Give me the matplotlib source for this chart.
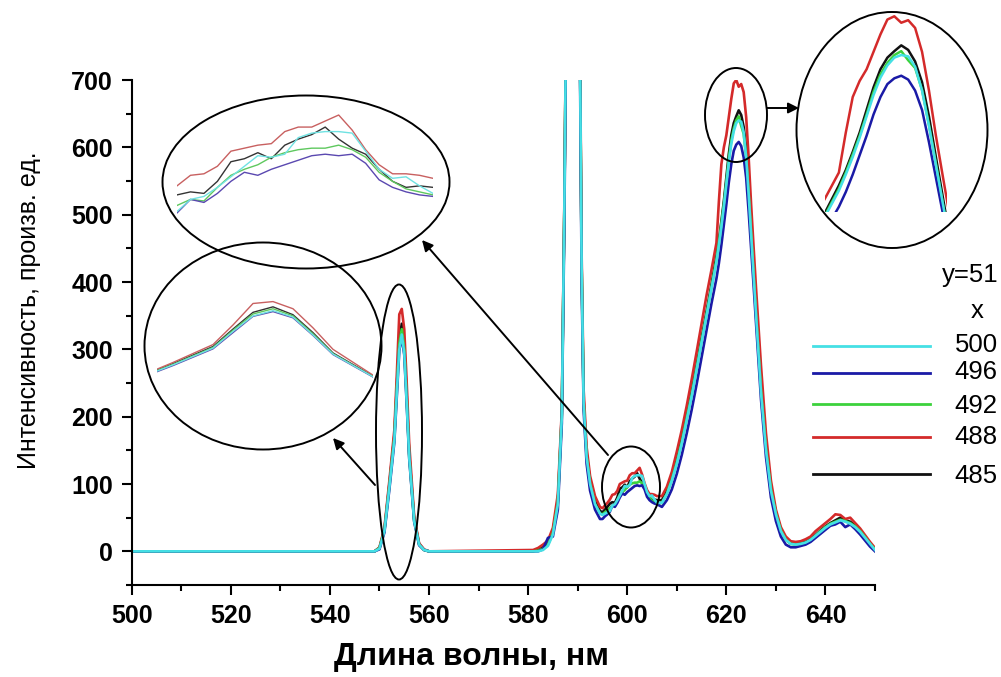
import matplotlib
matplotlib.use('Agg')
import matplotlib.pyplot as plt
from matplotlib.patches import Ellipse, FancyArrowPatch
from matplotlib.lines import Line2D
from matplotlib.ticker import MultipleLocator
import numpy as np

plt.rcParams['font.family'] = ['Liberation Sans', 'DejaVu Sans']

W, H = 1001, 677

# wavelength grid, nm
wavelength = np.array([
    500, 549, 550, 551, 552, 553, 553.5, 554, 554.5, 555, 555.5, 556, 557, 558, 559, 560,
    581, 582, 583, 584, 585, 586, 586.8, 587.3, 587.8, 589, 590.3, 590.8, 591.2, 591.8, 592.5, 593.5, 594.5,
    595, 595.5, 596, 596.5, 597, 597.5, 598, 598.5, 599, 599.5, 600, 600.5, 601, 601.5, 602, 602.5,
    603, 603.5, 604, 604.5, 605, 605.5, 606,
    607, 608, 609, 610, 611, 612, 613, 614, 615, 616, 617, 618,
    618.5, 619, 619.5, 620, 620.5, 621, 621.5, 622, 622.5, 623, 623.5, 624, 624.5, 625, 625.5, 626,
    627, 628, 629, 630, 631, 632, 633, 634, 635, 636, 637, 638, 639, 640, 641, 642, 643, 644, 645,
    646, 647, 648, 649, 650])

int_500 = [0, 0, 4, 30, 95, 165, 235, 300, 322, 295, 220, 140, 45, 10, 2, 0,
           0, 0, 2, 8, 25, 70, 200, 500, 900, 2000, 900, 420, 220, 140, 100, 70, 56,
           54, 56, 58, 60, 68, 70, 76, 83, 90, 97, 96, 98, 109, 112, 113, 113, 112, 100, 88, 82, 83, 77, 72,
           72, 85, 105, 130, 160, 195, 230, 270, 310, 350, 390, 430,
           455, 482, 512, 545, 578, 605, 624, 636, 640, 638, 622, 585, 530, 470, 410, 350,
           235, 150, 90, 55, 30, 17, 11, 10, 11, 13, 17, 23, 29, 35, 40, 43, 46, 44, 41, 36, 29, 20, 11, 2]
int_496 = [0, 0, 3, 28, 92, 162, 230, 298, 318, 292, 218, 138, 44, 9, 2, 0,
           0, 0, 3, 20, 22, 62, 190, 480, 880, 2000, 880, 400, 210, 130, 90, 62, 48,
           48, 52, 55, 59, 68, 66, 72, 80, 86, 84, 88, 91, 94, 97, 98, 97, 98, 92, 81, 76, 73, 71, 70,
           66, 76, 92, 115, 143, 175, 210, 248, 288, 328, 368, 405,
           428, 455, 485, 515, 548, 575, 595, 604, 608, 602, 585, 555, 505, 450, 395, 338,
           225, 140, 80, 45, 22, 10, 6, 6, 8, 10, 14, 20, 26, 32, 38, 40, 44, 36, 40, 33, 25, 16, 7, 0]
int_492 = [0, 0, 5, 31, 97, 168, 240, 308, 330, 300, 225, 142, 46, 10, 2, 0,
           0, 1, 4, 10, 27, 72, 200, 500, 900, 2000, 900, 420, 220, 140, 100, 70, 56,
           55, 58, 61, 64, 68, 67, 76, 84, 88, 91, 96, 99, 101, 102, 102, 104, 101, 96, 86, 80, 75, 73, 71,
           72, 86, 106, 132, 162, 197, 232, 272, 312, 352, 392, 433,
           458, 486, 515, 548, 583, 610, 628, 640, 646, 632, 620, 586, 532, 472, 410, 350,
           238, 152, 92, 56, 31, 17, 11, 10, 11, 13, 17, 23, 30, 36, 41, 44, 47, 45, 42, 37, 30, 21, 11, 3]
int_488 = [0, 0, 6, 35, 105, 180, 262, 352, 360, 330, 250, 160, 52, 12, 3, 0,
           2, 5, 10, 16, 35, 85, 210, 510, 910, 2000, 920, 440, 240, 155, 112, 82, 66,
           64, 68, 72, 77, 84, 85, 90, 100, 102, 104, 105, 113, 116, 116, 120, 124, 114, 101, 91, 85, 85, 84, 82,
           82, 96, 118, 148, 180, 216, 255, 296, 338, 380, 418, 458,
           520, 575, 600, 618, 645, 672, 695, 700, 690, 694, 682, 645, 585, 515, 452, 390,
           275, 175, 105, 62, 36, 22, 15, 14, 15, 18, 22, 30, 36, 42, 48, 55, 54, 48, 50, 42, 34, 24, 14, 5]
int_485 = [0, 0, 5, 32, 100, 172, 245, 315, 338, 305, 230, 145, 48, 11, 2, 0,
           0, 3, 6, 12, 30, 75, 205, 505, 905, 2000, 905, 425, 225, 145, 105, 75, 60,
           58, 62, 66, 71, 73, 72, 80, 93, 95, 99, 95, 104, 108, 111, 116, 108, 102, 98, 88, 80, 76, 77, 76,
           76, 90, 110, 136, 166, 200, 236, 276, 316, 356, 396, 438,
           462, 490, 520, 555, 590, 618, 636, 646, 655, 648, 630, 598, 545, 482, 420, 358,
           245, 158, 95, 58, 32, 18, 12, 11, 12, 14, 18, 24, 31, 37, 42, 46, 50, 46, 44, 38, 30, 21, 12, 3]

legend_labels = ['500', '496', '492', '488', '485']
colors = ['#45E0E5', '#1A1AA6', '#3CD23C', '#D42A2A', '#111111']
light_colors = ['#6FE2E2', '#5A48B0', '#5EC85E', '#C86060', '#333333']
series = [int_500, int_496, int_492, int_488, int_485]
draw_order = [4, 3, 2, 1, 0]


def box(x0, y0, x1, y1):
    # pixel box -> figure fraction rect
    return [x0 / W, 1 - y1 / H, (x1 - x0) / W, (y1 - y0) / H]


def pt(x, y):
    return (x / W, 1 - y / H)


fig = plt.figure(figsize=(W / 100, H / 100), dpi=100)
ax = fig.add_axes(box(131.7, 80, 875, 585))

for i in draw_order:
    ax.plot(wavelength, series[i], color=colors[i], lw=1.9, solid_joinstyle='round')

ax.set_xlim(500, 650)
ax.set_ylim(-50, 700)
ax.xaxis.set_major_locator(MultipleLocator(20))
ax.xaxis.set_minor_locator(MultipleLocator(10))
ax.yaxis.set_major_locator(MultipleLocator(100))
ax.yaxis.set_minor_locator(MultipleLocator(50))
ax.spines['top'].set_visible(False)
ax.spines['right'].set_visible(False)
for s in ['left', 'bottom']:
    ax.spines[s].set_linewidth(1.5)
ax.tick_params(which='major', direction='out', length=7.5, width=1.5, labelsize=18, pad=6)
ax.tick_params(which='minor', direction='out', length=4, width=1.5)
for lab in ax.get_xticklabels() + ax.get_yticklabels():
    lab.set_fontweight('bold')

fig.text(29 / W, 1 - 310 / H, 'Интенсивность, произв. ед.', rotation=90,
         ha='center', va='center', fontsize=18)
fig.text(471 / W, 1 - 657 / H, 'Длина волны, нм', ha='center', va='center',
         fontsize=23, fontweight='bold')


def inset(rect, xlim, ylim, lw, cols):
    a = fig.add_axes(rect)
    for i in draw_order:
        a.plot(wavelength, series[i], color=cols[i], lw=lw)
    a.set_xlim(*xlim)
    a.set_ylim(*ylim)
    a.axis('off')
    a.patch.set_alpha(0)
    return a


# zoomed views
inset(box(177, 112, 433, 216), (596.5, 606), (57, 126), 1.0, light_colors)
inset(box(157, 298, 373, 378), (551.6, 557.0), (40, 375), 1.0, light_colors)
inset(box(825, 15, 947, 212), (617, 625.8), (397, 702), 1.8, colors)

# ellipses marking regions and zoomed views
ellipses = [(306, 182, 287, 173), (263, 346, 237, 207), (892, 130, 191, 236),
            (399, 432, 46, 295), (631, 487, 58, 81), (736, 115, 62, 94)]
for cx, cy, w, h in ellipses:
    fig.add_artist(Ellipse(pt(cx, cy), w / W, h / H, transform=fig.transFigure,
                           fill=False, edgecolor='black', lw=1.4))

arrows = [((375, 485), (333, 438)), ((608, 455), (422, 240)), ((767, 108), (799, 108))]
for (x0, y0), (x1, y1) in arrows:
    fig.add_artist(FancyArrowPatch(pt(x0, y0), pt(x1, y1), transform=fig.transFigure,
                                   arrowstyle='-|>', mutation_scale=16, lw=1.4,
                                   color='black', shrinkA=0, shrinkB=0))

# legend
fig.text(970 / W, 1 - 275 / H, 'y=51', ha='center', va='center', fontsize=18.5)
fig.text(977 / W, 1 - 311 / H, 'x', ha='center', va='center', fontsize=18.5)
leg_y = [346, 373, 404, 437, 474]
txt_y = [345, 372, 406, 437, 476]
for i, lab in enumerate(legend_labels):
    fig.add_artist(Line2D([813 / W, 930 / W], [1 - leg_y[i] / H] * 2,
                          transform=fig.transFigure, color=colors[i], lw=2))
    fig.text(976 / W, 1 - txt_y[i] / H, lab, ha='center', va='center', fontsize=18.5)

fig.savefig('out.png', dpi=100)
